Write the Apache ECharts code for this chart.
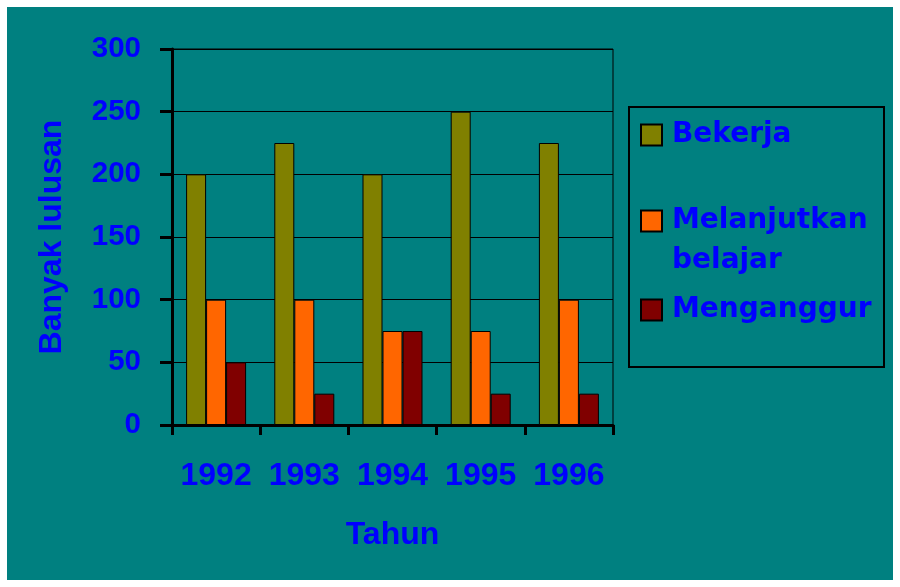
<!DOCTYPE html>
<html>
<head>
<meta charset="utf-8">
<script src="https://cdn.jsdelivr.net/npm/echarts@6/dist/echarts.min.js"></script>
<style>
html,body{margin:0;padding:0;background:#ffffff;width:900px;height:587px;overflow:hidden;}
#c{position:absolute;left:7px;top:7px;width:886px;height:573px;}
</style>
</head>
<body>
<div id="c"></div>
<script>
const years = ['1992', '1993', '1994', '1995', '1996'];
const bekerja = [200, 225, 200, 250, 225];
const melanjutkan = [100, 100, 75, 75, 100];
const menganggur = [50, 25, 75, 25, 25];
const seriesNames = ['Bekerja', 'Melanjutkan belajar', 'Menganggur'];
const yTicks = { min: 0, max: 300, interval: 50 };

const FONT = "'Liberation Sans', Arial, sans-serif";
const LFONT = "'DejaVu Sans', Verdana, sans-serif";
const BLUE = '#0000FF';
const chart = echarts.init(document.getElementById('c'));

function legendFor(name, top, extra) {
  return Object.assign({
    data: [name],
    left: 633,
    top: top,
    padding: 0,
    icon: 'rect',
    itemWidth: 21,
    itemHeight: 21,
    selectedMode: false,
    textStyle: {
      color: BLUE, fontFamily: LFONT, fontWeight: 'bold', fontSize: 28,
      lineHeight: 40, padding: [0, 0, 0, 5]
    }
  }, extra || {});
}

chart.setOption({
  animation: false,
  backgroundColor: '#008080',
  grid: { left: 165, top: 42, right: 280, bottom: 155, show: true, borderColor: '#000', borderWidth: 1 },
  xAxis: {
    type: 'category',
    data: years,
    name: 'Tahun',
    nameLocation: 'middle',
    nameGap: 94,
    nameTextStyle: { color: BLUE, fontFamily: FONT, fontWeight: 'bold', fontSize: 32 },
    axisLine: { lineStyle: { color: '#000', width: 3 } },
    axisTick: { show: true, interval: 0, length: 10, lineStyle: { color: '#000', width: 3 } },
    axisLabel: { interval: 0, hideOverlap: false, color: BLUE, fontFamily: FONT, fontWeight: 'bold', fontSize: 32, margin: 35 }
  },
  yAxis: {
    type: 'value',
    min: yTicks.min, max: yTicks.max, interval: yTicks.interval,
    name: 'Banyak lulusan',
    nameLocation: 'middle',
    nameGap: 104,
    nameTextStyle: { color: BLUE, fontFamily: FONT, fontWeight: 'bold', fontSize: 32 },
    axisLine: { show: true, lineStyle: { color: '#000', width: 3 } },
    axisTick: { show: true, length: 12, lineStyle: { color: '#000', width: 3 } },
    axisLabel: { color: BLUE, fontFamily: FONT, fontWeight: 'bold', fontSize: 29.5, margin: 31 },
    splitLine: { show: true, lineStyle: { color: '#000', width: 1 } }
  },
  legend: [
    legendFor(seriesNames[0], 108),
    legendFor(seriesNames[1], 154, {
      formatter: function () { return '\nMelanjutkan\nbelajar'; }
    }),
    legendFor(seriesNames[2], 283)
  ],
  graphic: [{
    type: 'rect',
    shape: { x: 622, y: 100, width: 255, height: 260 },
    style: { fill: 'none', stroke: '#000', lineWidth: 2 },
    silent: true
  }],
  series: [
    { name: seriesNames[0], type: 'bar', data: bekerja, barWidth: 20, barGap: '0%',
      itemStyle: { color: '#808000', borderColor: '#000', borderWidth: 1 } },
    { name: seriesNames[1], type: 'bar', data: melanjutkan, barWidth: 20, barGap: '0%',
      itemStyle: { color: '#FF6600', borderColor: '#000', borderWidth: 1 } },
    { name: seriesNames[2], type: 'bar', data: menganggur, barWidth: 20, barGap: '0%',
      itemStyle: { color: '#800000', borderColor: '#000', borderWidth: 1 } }
  ]
});
</script>
</body>
</html>
